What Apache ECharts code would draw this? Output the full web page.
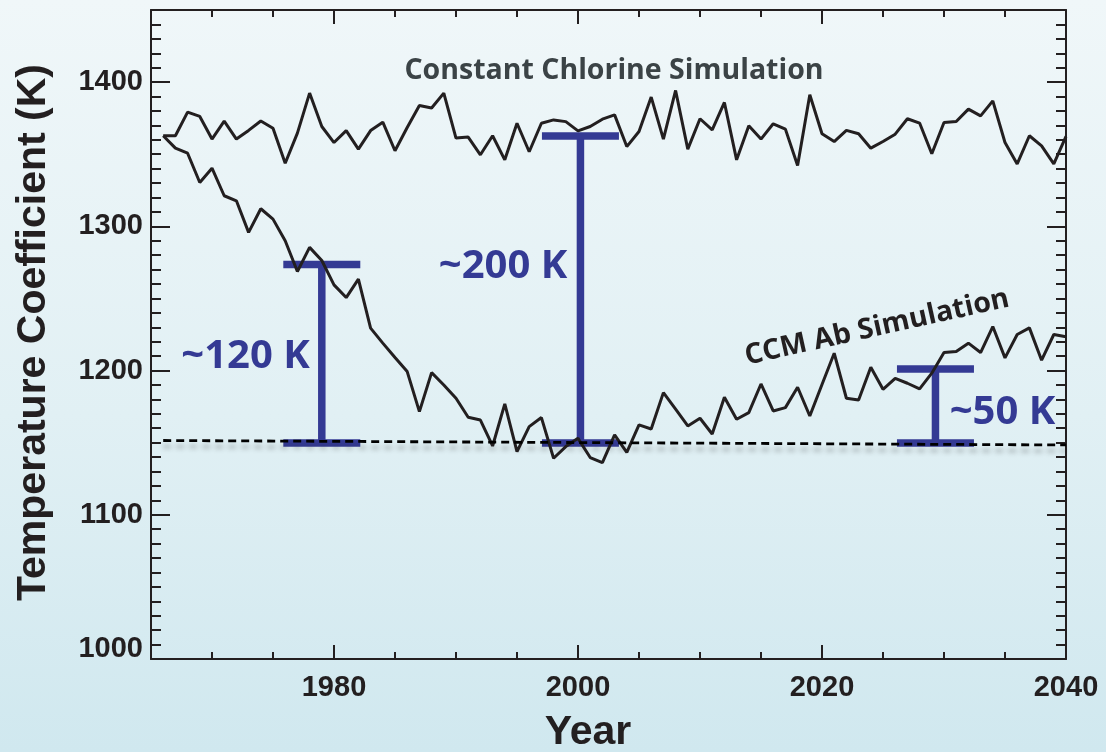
<!DOCTYPE html>
<html>
<head>
<meta charset="utf-8">
<script src="https://cdn.jsdelivr.net/npm/echarts@6/dist/echarts.min.js"></script>
<style>
html, body { margin: 0; padding: 0; }
body { background: linear-gradient(to bottom, #f0f7f9 0%, #e1f0f4 55%, #d0e8ef 100%); }
#chart { width: 1106px; height: 752px; }
</style>
</head>
<body>
<div id="chart"></div>
<script>
// Simulation years
const years = [
  1966, 1967, 1968, 1969, 1970, 1971, 1972, 1973, 1974, 1975,
  1976, 1977, 1978, 1979, 1980, 1981, 1982, 1983, 1984, 1985,
  1986, 1987, 1988, 1989, 1990, 1991, 1992, 1993, 1994, 1995,
  1996, 1997, 1998, 1999, 2000, 2001, 2002, 2003, 2004, 2005,
  2006, 2007, 2008, 2009, 2010, 2011, 2012, 2013, 2014, 2015,
  2016, 2017, 2018, 2019, 2020, 2021, 2022, 2023, 2024, 2025,
  2026, 2027, 2028, 2029, 2030, 2031, 2032, 2033, 2034, 2035,
  2036, 2037, 2038, 2039, 2040
];

// Temperature coefficient (K), constant chlorine run
const constantChlorine = [
  1362.8, 1362.8, 1379.2, 1376.2, 1360.5, 1373.0, 1360.5, 1366.5, 1373.0, 1368.0,
  1343.7, 1364.6, 1392.4, 1369.2, 1358.1, 1366.4, 1353.5, 1366.4, 1372.2, 1352.4,
  1368.5, 1383.8, 1382.0, 1392.4, 1361.2, 1361.9, 1349.6, 1362.8, 1346.1, 1371.5,
  1351.7, 1371.5, 1373.8, 1372.6, 1366.2, 1369.2, 1374.3, 1377.3, 1355.3, 1365.8,
  1389.6, 1360.5, 1394.2, 1353.5, 1374.6, 1366.9, 1385.9, 1346.1, 1369.7, 1360.5,
  1371.1, 1367.4, 1342.2, 1391.2, 1364.2, 1358.8, 1366.5, 1364.2, 1354.2, 1358.8,
  1363.9, 1374.6, 1371.6, 1350.3, 1372.0, 1372.7, 1381.3, 1376.6, 1387.0, 1358.1,
  1343.3, 1362.8, 1355.8, 1343.3, 1362.3
];

// Temperature coefficient (K), CCM Ab run
const ccmAb = [
  1362.8, 1354.2, 1350.7, 1330.4, 1340.3, 1321.2, 1317.7, 1295.8, 1312.2, 1305.0,
  1290.0, 1268.7, 1285.4, 1276.3, 1259.4, 1250.6, 1263.4, 1229.4, 1219.0, 1209.0,
  1199.3, 1171.5, 1198.6, 1190.0, 1180.8, 1167.6, 1165.7, 1147.7, 1176.9, 1143.8,
  1161.1, 1167.4, 1139.2, 1147.3, 1153.0, 1139.7, 1136.2, 1155.4, 1143.2, 1162.3,
  1159.5, 1184.7, 1173.2, 1161.6, 1166.9, 1156.0, 1181.5, 1166.2, 1170.8, 1190.7,
  1172.0, 1174.3, 1188.4, 1168.5, 1190.3, 1212.0, 1180.8, 1179.6, 1202.3, 1187.0,
  1194.6, 1191.2, 1187.3, 1198.2, 1212.5, 1213.2, 1219.0, 1212.5, 1230.5, 1208.8,
  1225.0, 1229.6, 1207.2, 1225.0, 1223.4
];

// Dashed reference level
const baselineYears = [1966, 2040];
const baselineValues = [1151.5, 1148.4];

// Gap markers: year, lower and upper level (K), and their labels
const gapYears = [1979, 2000.2, 2029.3];
const gapLow = [1149.7, 1149.7, 1149.7];
const gapHigh = [1273.5, 1362.6, 1201.0];
const gapLabels = ['~120 K', '~200 K', '~50 K'];

// Axis ticks
const xTickYears = [1980, 2000, 2020, 2040];
const yTickValues = [1000, 1100, 1200, 1300, 1400];

const INK = '#231f20';
const BLUE = '#343a94';
const LABEL_FONT = 'Liberation Sans';
const NOTE_FONT = 'Open Sans';

const pairs = (xs, ys) => xs.map((x, i) => [x, ys[i]]);

function xAxisDef(position, major) {
  return {
    type: 'value', position: position, min: 1965, max: 2040, gridIndex: 0,
    interval: major ? undefined : 5,
    axisLine: { show: major, onZero: false, lineStyle: { color: INK, width: 2 } },
    axisTick: major
      ? { show: true, inside: true, length: 14, customValues: xTickYears, lineStyle: { color: INK, width: 2 } }
      : { show: true, inside: true, length: 7, lineStyle: { color: INK, width: 2 } },
    axisLabel: (major && position === 'bottom')
      ? {
          show: true, customValues: xTickYears, margin: 14, color: INK,
          fontSize: 29, fontWeight: 'bold', fontFamily: LABEL_FONT,
          formatter: v => String(v)
        }
      : { show: false },
    splitLine: { show: false }
  };
}

function yAxisDef(position, major) {
  return {
    type: 'value', position: position, min: 1000, max: 1450, gridIndex: 0,
    interval: major ? undefined : 10,
    axisLine: { show: major, onZero: false, lineStyle: { color: INK, width: 2 } },
    axisTick: major
      ? { show: true, inside: true, length: 19, customValues: yTickValues, lineStyle: { color: INK, width: 2 } }
      : { show: true, inside: true, length: 10, lineStyle: { color: INK, width: 2 } },
    axisLabel: (major && position === 'left')
      ? {
          show: true, customValues: yTickValues, margin: 8, color: INK,
          fontSize: 29, fontWeight: 'bold', fontFamily: LABEL_FONT,
          formatter: v => (v === 1000 ? '{lo|' + v + '}' : '{n|' + v + '}'),
          rich: {
            n: { fontSize: 29, fontWeight: 'bold', fontFamily: LABEL_FONT, color: INK },
            lo: { fontSize: 29, fontWeight: 'bold', fontFamily: LABEL_FONT, color: INK, padding: [0, 0, 21, 0] }
          }
        }
      : { show: false },
    splitLine: { show: false }
  };
}

const chart = echarts.init(document.getElementById('chart'), null, { renderer: 'canvas' });

chart.setOption({
  backgroundColor: 'transparent',
  animation: false,
  grid: { left: 151, right: 40, top: 10, bottom: 93, outerBoundsMode: 'none' },
  xAxis: [
    xAxisDef('bottom', true),
    xAxisDef('bottom', false),
    xAxisDef('top', true),
    xAxisDef('top', false)
  ],
  yAxis: [
    yAxisDef('left', true),
    yAxisDef('left', false),
    yAxisDef('right', true),
    yAxisDef('right', false)
  ],
  series: [
    {
      name: 'Gap', type: 'custom', xAxisIndex: 0, yAxisIndex: 0, z: 2,
      data: gapYears.map((yr, i) => [yr, gapLow[i], gapHigh[i]]),
      renderItem: function (params, api) {
        const lo = api.coord([api.value(0), api.value(1)]);
        const hi = api.coord([api.value(0), api.value(2)]);
        const half = 38.5;
        const st = { stroke: BLUE, lineWidth: 7.5 };
        return {
          type: 'group',
          children: [
            { type: 'line', shape: { x1: lo[0], y1: lo[1], x2: hi[0], y2: hi[1] }, style: st },
            { type: 'line', shape: { x1: hi[0] - half, y1: hi[1], x2: hi[0] + half, y2: hi[1] }, style: st },
            { type: 'line', shape: { x1: lo[0] - half, y1: lo[1], x2: lo[0] + half, y2: lo[1] }, style: st }
          ]
        };
      }
    },
    {
      name: 'Constant Chlorine Simulation', type: 'line', xAxisIndex: 0, yAxisIndex: 0, z: 3,
      data: pairs(years, constantChlorine), symbol: 'none', showSymbol: false,
      lineStyle: { color: INK, width: 3 }
    },
    {
      name: 'CCM Ab Simulation', type: 'line', xAxisIndex: 0, yAxisIndex: 0, z: 3,
      data: pairs(years, ccmAb), symbol: 'none', showSymbol: false,
      lineStyle: { color: INK, width: 3 }
    },
    {
      name: 'Reference', type: 'line', xAxisIndex: 0, yAxisIndex: 0, z: 4,
      data: pairs(baselineYears, baselineValues), symbol: 'none', showSymbol: false,
      lineStyle: {
        color: '#000', width: 2.8, type: [8, 5],
        shadowColor: 'rgba(40,40,40,0.35)', shadowBlur: 5, shadowOffsetY: 6
      }
    }
  ],
  graphic: [
    {
      type: 'text', x: 33.5, y: 332.5, rotation: Math.PI / 2, z: 10,
      style: { text: 'Temperature Coefficient (K)', fill: INK, fontSize: 41, fontWeight: 'bold', fontFamily: LABEL_FONT, align: 'center', verticalAlign: 'middle' }
    },
    {
      type: 'text', x: 588, y: 733, z: 10,
      style: { text: 'Year', fill: INK, fontSize: 41, fontWeight: 'bold', fontFamily: LABEL_FONT, align: 'center', verticalAlign: 'middle' }
    },
    {
      type: 'text', x: 614, y: 71, z: 10,
      style: { text: 'Constant Chlorine Simulation', fill: '#3b4346', fontSize: 28.5, fontWeight: 'bold', fontFamily: NOTE_FONT, align: 'center', verticalAlign: 'middle' }
    },
    {
      type: 'text', x: 877, y: 327.5, rotation: 12.5 * Math.PI / 180, z: 10,
      style: { text: 'CCM Ab Simulation', fill: INK, fontSize: 28.5, fontWeight: 'bold', fontFamily: NOTE_FONT, align: 'center', verticalAlign: 'middle' }
    },
    {
      type: 'text', x: 245.5, y: 357, z: 10,
      style: { text: gapLabels[0], fill: BLUE, fontSize: 40, fontWeight: 'bold', fontFamily: NOTE_FONT, align: 'center', verticalAlign: 'middle' }
    },
    {
      type: 'text', x: 503, y: 266.5, z: 10,
      style: { text: gapLabels[1], fill: BLUE, fontSize: 40, fontWeight: 'bold', fontFamily: NOTE_FONT, align: 'center', verticalAlign: 'middle' }
    },
    {
      type: 'text', x: 1002.5, y: 412.5, z: 10,
      style: { text: gapLabels[2], fill: BLUE, fontSize: 40, fontWeight: 'bold', fontFamily: NOTE_FONT, align: 'center', verticalAlign: 'middle' }
    }
  ]
});
</script>
</body>
</html>
